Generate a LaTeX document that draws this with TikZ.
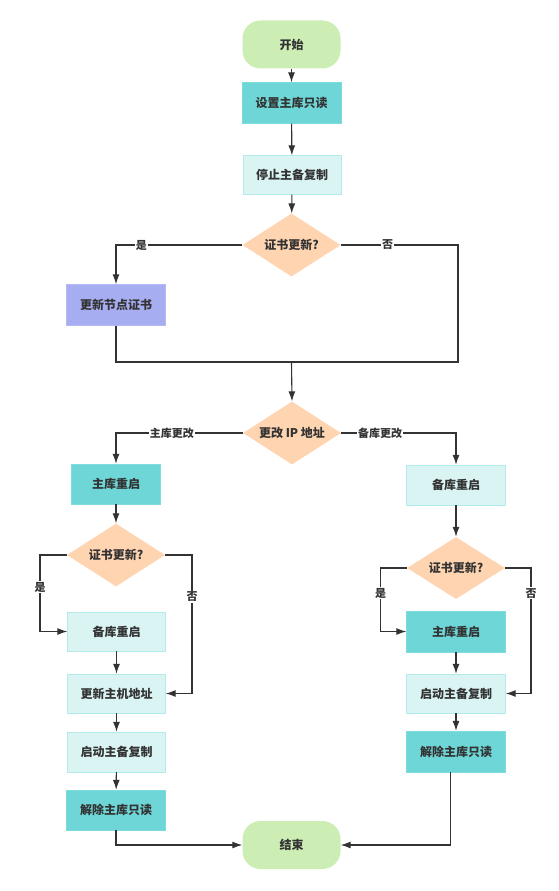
\documentclass[tikz,border=0pt]{standalone}
\usepackage{fontspec}
\newfontfamily\cjk{Noto Sans CJK SC}
\usepackage{tikz}
\usetikzlibrary{arrows.meta,shapes.geometric,positioning}
\definecolor{linegray}{HTML}{333333}
\definecolor{startgreen}{HTML}{CCEDB3}
\definecolor{teal}{HTML}{6ED6D6}
\definecolor{tealedge}{HTML}{7FDCDC}
\definecolor{paleteal}{HTML}{DAF4F4}
\definecolor{paleedge}{HTML}{B3EBEB}
\definecolor{lilac}{HTML}{A6ADF1}
\definecolor{lilacedge}{HTML}{B4BAF5}
\definecolor{peach}{HTML}{FFD4B1}

\begin{document}
\begin{tikzpicture}[x=1pt,y=-1pt]

\tikzset{every node/.style={font=\cjk\bfseries\fontsize{12}{14}\selectfont, text=linegray},
         terminal/.style={fill=startgreen, rounded corners=18pt, minimum width=98pt, minimum height=48pt},
         darkbox/.style={fill=teal, draw=tealedge, minimum width=99pt, minimum height=41pt},
         lightbox/.style={fill=paleteal, draw=paleedge, minimum width=98pt, minimum height=39pt},
         certbox/.style={fill=lilac, draw=lilacedge, minimum width=99pt, minimum height=41pt},
         decision/.style={diamond, fill=peach, aspect=1.5, inner sep=0pt, minimum width=98pt, minimum height=63pt},
         flow/.style={draw=linegray, line width=1.1pt, -{Latex[length=10pt,width=7pt]}},
         plain/.style={draw=linegray, line width=1.1pt},
         lab/.style={font=\cjk\bfseries\fontsize{11}{13}\selectfont, fill=white, inner sep=1pt}}

\useasboundingbox (0,0) rectangle (558,891);

% main trunk
\node[terminal] (start) at (291.5,44.5) {开始};
\node[darkbox] (setro) at (291.5,103) {设置主库只读};
\node[lightbox] (stoprep) at (292,175) {停止主备复制};
\node[decision] (certq) at (291.5,245) {证书更新?};
\node[certbox] (certup) at (116,305) {更新节点证书};
\node[decision] (ipq) at (292,433) {更改 IP 地址};

% master changed
\node[darkbox, minimum width=89pt, minimum height=40pt] (mrestart) at (116,484) {主库重启};
\node[decision] (mcertq) at (116,555) {证书更新?};
\node[lightbox] (mslave) at (116.5,631.5) {备库重启};
\node[lightbox] (mhost) at (116.5,693.5) {更新主机地址};
\node[lightbox, minimum height=40pt] (mstart) at (116.5,752) {启动主备复制};
\node[darkbox, minimum height=40pt] (mfree) at (116,810) {解除主库只读};

% slave changed
\node[lightbox, minimum width=99pt, minimum height=40pt] (srestart) at (456,485) {备库重启};
\node[decision, minimum height=62pt] (scertq) at (456,568) {证书更新?};
\node[darkbox] (smaster) at (456,631.5) {主库重启};
\node[lightbox, minimum width=99pt] (sstart) at (456,693.5) {启动主备复制};
\node[darkbox] (sfree) at (456,751.5) {解除主库只读};

\node[terminal] (finish) at (291.5,845) {结束};

\coordinate (merge) at (291.5,362);
\coordinate (rjoin) at (458,362);
\coordinate (myes) at (40,555);
\coordinate (mno) at (192,555);
\coordinate (syes) at (380.7,568);
\coordinate (sno) at (531,568);

\draw[flow] (start) -- (setro);
\draw[flow] (setro) -- (stoprep);
\draw[flow] (stoprep) -- (certq);
\draw[flow] (certq.west) -| node[lab, pos=0.4] {是} (certup.north);
\draw[plain] (certq.east) -| node[lab, pos=0.2] {否} (rjoin) -- (merge);
\draw[plain] (certup.south) |- (merge);
\draw[flow] (merge) -- (ipq.north);

\draw[flow] (ipq.west) -| node[lab, pos=0.28] {主库更改} (mrestart.north);
\draw[flow] (ipq.east) -| node[lab, pos=0.17] {备库更改} (srestart.north);

% left
\draw[flow] (mrestart) -- (mcertq);
\draw[flow] (mcertq.west) -- (myes) |- node[lab, pos=0.21] {是} (mslave.west);
\draw[flow] (mcertq.east) -- (mno) |- node[lab, pos=0.15] {否} (mhost.east);
\draw[flow] (mslave) -- (mhost);
\draw[flow] (mhost) -- (mstart);
\draw[flow] (mstart) -- (mfree);
\draw[flow] (mfree.south) |- (finish.west);

% right
\draw[flow] (srestart) -- (scertq);
\draw[flow] (scertq.west) -- (syes) |- node[lab, pos=0.2] {是} (smaster.west);
\draw[flow] (scertq.east) -- (sno) |- node[lab, pos=0.1] {否} (sstart.east);
\draw[flow] (smaster) -- (sstart);
\draw[flow] (sstart) -- (sfree);
\draw[flow] ([xshift=-5.3pt]sfree.south) |- (finish.east);

\end{tikzpicture}
\end{document}
